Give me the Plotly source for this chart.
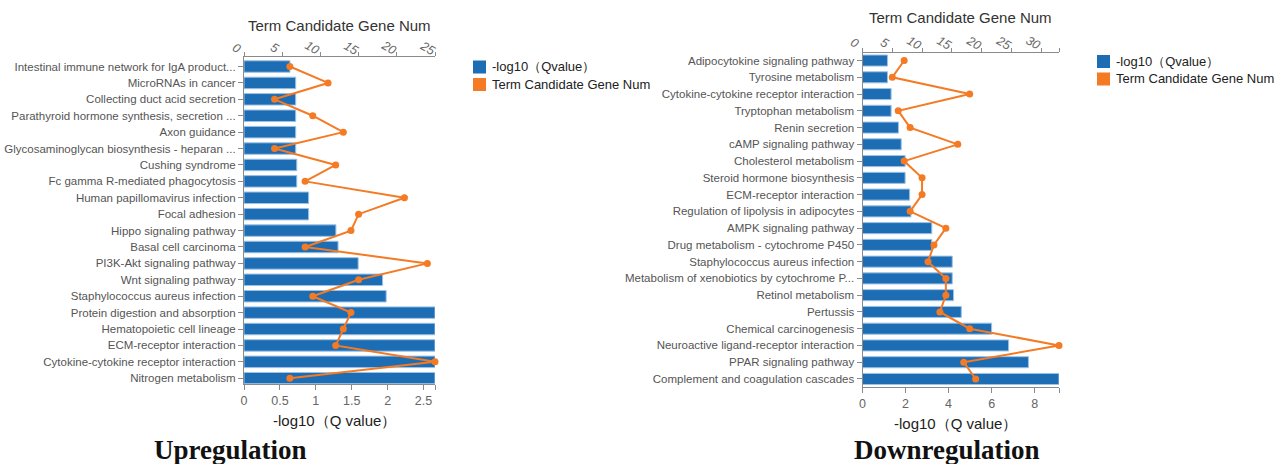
import plotly.graph_objects as go

# ---------------- data ----------------
up_terms = [
    "Intestinal immune network for IgA product...",
    "MicroRNAs in cancer",
    "Collecting duct acid secretion",
    "Parathyroid hormone synthesis, secretion ...",
    "Axon guidance",
    "Glycosaminoglycan biosynthesis - heparan ...",
    "Cushing syndrome",
    "Fc gamma R-mediated phagocytosis",
    "Human papillomavirus infection",
    "Focal adhesion",
    "Hippo signaling pathway",
    "Basal cell carcinoma",
    "PI3K-Akt signaling pathway",
    "Wnt signaling pathway",
    "Staphylococcus aureus infection",
    "Protein digestion and absorption",
    "Hematopoietic cell lineage",
    "ECM-receptor interaction",
    "Cytokine-cytokine receptor interaction",
    "Nitrogen metabolism",
]
up_qvalue = [0.64, 0.72, 0.72, 0.72, 0.72, 0.72, 0.735, 0.735, 0.90, 0.90,
             1.28, 1.31, 1.59, 1.93, 1.98, 2.66, 2.66, 2.66, 2.66, 2.66]
up_genes = [6, 11, 4, 9, 13, 4, 12, 8, 21, 15, 14, 8, 24, 15, 9, 14, 13, 12, 25, 6]

down_terms = [
    "Adipocytokine signaling pathway",
    "Tyrosine metabolism",
    "Cytokine-cytokine receptor interaction",
    "Tryptophan metabolism",
    "Renin secretion",
    "cAMP signaling pathway",
    "Cholesterol metabolism",
    "Steroid hormone biosynthesis",
    "ECM-receptor interaction",
    "Regulation of lipolysis in adipocytes",
    "AMPK signaling pathway",
    "Drug metabolism - cytochrome P450",
    "Staphylococcus aureus infection",
    "Metabolism of xenobiotics by cytochrome P...",
    "Retinol metabolism",
    "Pertussis",
    "Chemical carcinogenesis",
    "Neuroactive ligand-receptor interaction",
    "PPAR signaling pathway",
    "Complement and coagulation cascades",
]
down_qvalue = [1.16, 1.16, 1.33, 1.33, 1.67, 1.80, 1.98, 1.98, 2.19, 2.25,
               3.22, 3.22, 4.17, 4.17, 4.23, 4.59, 6.00, 6.79, 7.71, 9.13]
down_genes = [7, 5, 18, 6, 8, 16, 7, 10, 10, 8, 14, 12, 11, 14, 14, 13, 18, 33, 17, 19]

up_q_ticks = [0, 0.5, 1, 1.5, 2, 2.5]
up_g_ticks = [0, 5, 10, 15, 20, 25]
down_q_ticks = [0, 2, 4, 6, 8]
down_g_ticks = [0, 5, 10, 15, 20, 25, 30]

panel_titles = ["Upregulation", "Downregulation"]
q_label = "-log10（Q value）"
g_label = "Term Candidate Gene Num"
legend_labels = ["-log10（Qvalue）", "Term Candidate Gene Num"]

# ---------------- style ----------------
BLUE = "#1d6db5"
ORANGE = "#f47a24"
AXIS = "#8a8a8a"
TICK = "#666666"
FONT = "Liberation Sans, Arial, sans-serif"
W, H = 1280, 464


def px_x(v):
    return v / W


def px_y(v):
    return 1 - v / H


fig = go.Figure()

panels = [
    dict(terms=up_terms, q=up_qvalue, g=up_genes, qt=up_q_ticks, gt=up_g_ticks,
         x0=244, x1=435, y0=57, y1=383.5, top=-0.58, bot=19.32, bw=0.70,
         xb="x", xt="x2", y="y", lab_dy=9),
    dict(terms=down_terms, q=down_qvalue, g=down_genes, qt=down_q_ticks, gt=down_g_ticks,
         x0=862.5, x1=1059, y0=53, y1=387, top=-0.45, bot=19.48, bw=0.66,
         xb="x3", xt="x4", y="y2", lab_dy=10),
]

annotations = []
shapes = []
layout_axes = {}
for p in panels:
    qmax = max(p["q"])
    gmax = max(p["g"])
    fig.add_trace(go.Bar(
        x=p["q"], y=p["terms"], orientation="h", width=p["bw"],
        marker=dict(color=BLUE, line=dict(color="#9cc2e6", width=1)),
        xaxis=p["xb"], yaxis=p["y"], showlegend=False,
    ))
    fig.add_trace(go.Scatter(
        x=p["g"], y=p["terms"], mode="lines+markers",
        line=dict(color=ORANGE, width=2),
        marker=dict(color=ORANGE, size=7),
        xaxis=p["xt"], yaxis=p["y"], showlegend=False, cliponaxis=False,
    ))
    dom_x = [px_x(p["x0"]), px_x(p["x1"])]
    dom_y = [px_y(p["y1"]), px_y(p["y0"])]
    xb_name = "xaxis" if p["xb"] == "x" else "xaxis" + p["xb"][1:]
    xt_name = "xaxis" + p["xt"][1:]
    y_name = "yaxis" if p["y"] == "y" else "yaxis" + p["y"][1:]

    layout_axes[xb_name] = dict(
        domain=dom_x, anchor=p["y"], side="bottom", range=[0, qmax], automargin=False,
        tickvals=p["qt"] + [qmax],
        ticktext=[f"{v:g}" for v in p["qt"]] + [""],
        showgrid=False, zeroline=False, showline=True, linecolor=AXIS, linewidth=1,
        ticks="outside", ticklen=5, tickcolor=AXIS,
        tickfont=dict(family=FONT, size=12.5, color=TICK),
    )
    layout_axes[xt_name] = dict(
        domain=dom_x, anchor=p["y"], overlaying=p["xb"], side="top", range=[0, gmax],
        automargin=False, showticklabels=False,
        tickvals=p["gt"] + [gmax],
        showgrid=False, zeroline=False, showline=True, linecolor=AXIS, linewidth=1,
        ticks="outside", ticklen=4, tickcolor=AXIS,
    )
    # slanted italic labels for the gene-count axis, placed just above the line
    for v in p["gt"]:
        annotations.append(dict(
            x=v, xref=p["xt"], y=px_y(p["y0"] - p["lab_dy"]), yref="paper",
            text=str(v), showarrow=False, textangle=30, xshift=-8,
            xanchor="center", yanchor="middle",
            font=dict(family=FONT, size=12.5, color=TICK, style="italic"),
        ))
    layout_axes[y_name] = dict(
        domain=dom_y, anchor=p["xb"], type="category", automargin=False,
        range=[p["bot"], p["top"]],
        showgrid=False, zeroline=False, showline=True, linecolor=AXIS, linewidth=1,
        ticks="outside", ticklen=5, tickcolor=AXIS,
        tickfont=dict(family=FONT, size=11.5, color="#555555"),
    )

fig.update_layout(**layout_axes)

# axis titles
for cx, ty, by in [(339.5, 25, 420), (960.5, 17, 423)]:
    annotations.append(dict(x=px_x(cx), y=px_y(ty), xref="paper", yref="paper",
                            text=g_label, showarrow=False, xanchor="center", yanchor="middle",
                            font=dict(family=FONT, size=15, color="#333333")))
    annotations.append(dict(x=px_x(cx - 5), y=px_y(by), xref="paper", yref="paper",
                            text=q_label, showarrow=False, xanchor="center", yanchor="middle",
                            font=dict(family=FONT, size=15, color="#222222")))

# panel titles
for cx, t in zip([230, 947], panel_titles):
    annotations.append(dict(x=px_x(cx), y=px_y(450), xref="paper", yref="paper",
                            text=f"<b>{t}</b>", showarrow=False, xanchor="center", yanchor="middle",
                            font=dict(family="Liberation Serif, Times New Roman, serif",
                                      size=27, color="#111111")))

# legends
for lx, ly in [(473, 60.5), (1097, 55)]:
    for i, (lab, col) in enumerate(zip(legend_labels, [BLUE, ORANGE])):
        top = ly + i * 17.5
        shapes.append(dict(type="rect", xref="paper", yref="paper",
                           x0=px_x(lx), x1=px_x(lx + 13), y0=px_y(top + 13), y1=px_y(top),
                           fillcolor=col, line=dict(width=0)))
        annotations.append(dict(x=px_x(lx + 17), y=px_y(top + 6.5), xref="paper", yref="paper",
                                text=lab, showarrow=False, xanchor="left", yanchor="middle",
                                font=dict(family=FONT, size=13, color="#222222")))

fig.update_layout(
    width=W, height=H,
    margin=dict(l=0, r=0, t=0, b=0, autoexpand=False),
    paper_bgcolor="white", plot_bgcolor="white",
    annotations=annotations, shapes=shapes,
    bargap=0.3,
)

fig.write_html("out.html")
